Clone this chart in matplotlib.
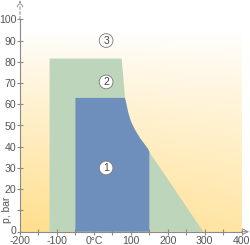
import numpy as np
import matplotlib
matplotlib.use("Agg")
import matplotlib.pyplot as plt
import matplotlib.transforms as mtransforms

plt.rcParams['font.family'] = ['Liberation Sans', 'DejaVu Sans']

# --- data ---
x_ticks = [-200, -100, 0, 100, 200, 300, 400]
x_ticklabels = ['-200', '-100', '0°C', '100', '200', '300', '400']
x_minor = [-150, -50, 50, 150, 250, 350]
y_ticks = [0, 10, 20, 30, 40, 50, 60, 70, 80, 90, 100]
y_ticklabels = ['0', '', '20', '30', '40', '50', '60', '70', '80', '90', '100']

# region 1 (blue) boundary
blue_x = [-50, -50, 84, 88, 93, 100, 111, 125, 140, 147, 150, 150]
blue_y = [0, 63, 63, 60, 56, 52, 48, 44, 40.5, 38.8, 37.5, 0]
# region 2 (green) boundary
green_x = [-120, -120, 75, 80, 84, 88, 93, 100, 111, 125, 140, 147, 150, 296]
green_y = [0, 81.5, 81.5, 72, 63, 60, 56, 52, 48, 44, 40.5, 38.8, 37.5, 0]

labels = ['1', '2', '3']
label_x = [33, 33, 33]
label_y = [30, 70.5, 90]

fig = plt.figure(figsize=(2.5, 2.45), dpi=100)
ax = fig.add_axes([20/250, (245-231.7)/245, (241.7-20)/250, (231.7-19.3)/245])
ax.set_xlim(-200, 400)
ax.set_ylim(0, 100)

# background gradient
ny, nx = 200, 200
gx = np.linspace(0, 1, nx)
gy = np.linspace(0, 1, ny)
GX, GY = np.meshgrid(gx, gy)
alpha = np.clip(1 - GY, 0, 1) ** 0.9 * (1 - 0.2 * GX)
img = np.zeros((ny, nx, 4))
img[..., 0] = 255/255
img[..., 1] = 222/255
img[..., 2] = 140/255
img[..., 3] = alpha
ax.imshow(img, extent=(-200, 400, 0, 95), origin='lower', aspect='auto',
          interpolation='bilinear', zorder=0)

ax.fill(green_x, green_y, color='#bdd5bb', lw=0, zorder=1)
ax.fill(blue_x, blue_y, color='#6e8fbb', lw=0, zorder=2)

for s in ['top', 'right']:
    ax.spines[s].set_visible(False)
for s in ['left', 'bottom']:
    ax.spines[s].set_color('#8a8a8a')
    ax.spines[s].set_linewidth(0.8)
    ax.spines[s].set_zorder(5)

ax.set_xticks(x_ticks)
ax.set_xticklabels(x_ticklabels)
ax.set_xticks(x_minor, minor=True)
ax.set_yticks(y_ticks)
ax.set_yticklabels(y_ticklabels)
ax.tick_params(which='both', direction='inout', length=5, width=0.8,
               color='#8a8a8a', labelcolor='#555555', labelsize=7.6, pad=0.3)

# nudge the "0" y label up slightly so it clears "-200"
lbl0 = ax.get_yticklabels()[0]
lbl0.set_transform(lbl0.get_transform() +
                   mtransforms.ScaledTranslation(0, 2/100, fig.dpi_scale_trans))

# axis arrows
ax.annotate('', xy=(-200, 109), xytext=(-200, 100), xycoords='data',
            arrowprops=dict(arrowstyle='->', color='#8a8a8a', lw=0.7,
                            linestyle=(0, (3, 2)), shrinkA=0, shrinkB=0),
            annotation_clip=False)
ax.annotate('', xy=(420, 0), xytext=(400, 0), xycoords='data',
            arrowprops=dict(arrowstyle='->', color='#8a8a8a', lw=0.7,
                            shrinkA=0, shrinkB=0),
            annotation_clip=False)

ax.text(-236, 10.5, 'p, bar', rotation=90, ha='center', va='center',
        fontsize=7.4, color='#555555')

for t, xx, yy in zip(labels, label_x, label_y):
    ax.text(xx, yy, t, ha='center', va='center', fontsize=7.5, color='#444444',
            zorder=6,
            bbox=dict(boxstyle='circle,pad=0.18', fc='white', ec='#777777', lw=0.6))

fig.savefig('out.png', dpi=100)
